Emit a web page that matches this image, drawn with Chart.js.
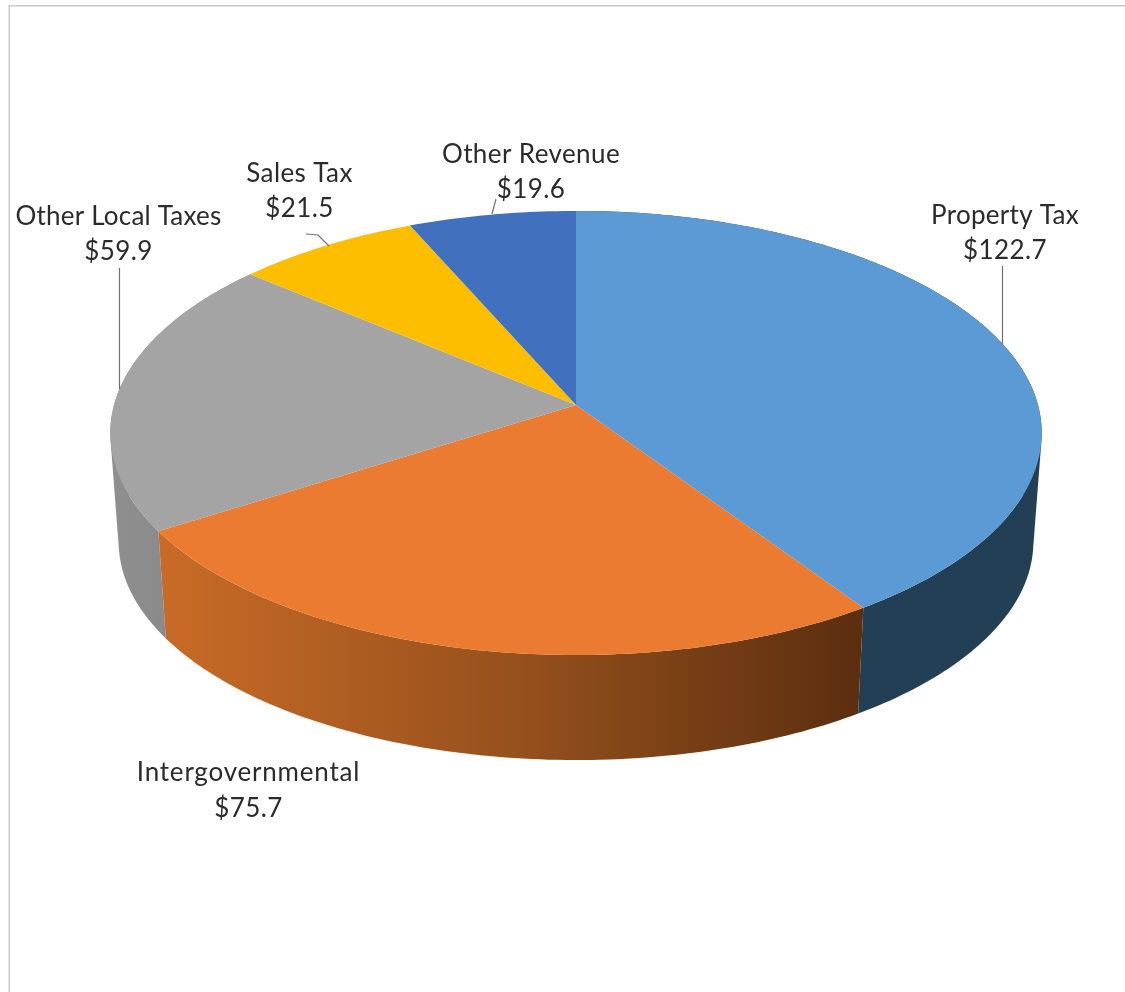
<!DOCTYPE html>
<html>
<head>
<meta charset="utf-8">
<title>Revenue by source</title>
<script src="https://cdn.jsdelivr.net/npm/chart.js@4/dist/chart.umd.min.js"></script>
<style>
  html, body { margin: 0; padding: 0; background: #fff; }
  canvas { display: block; }
</style>
</head>
<body>
<canvas id="pie" width="1125" height="992"></canvas>
<script>
const CATEGORIES = ['Property Tax', 'Intergovernmental', 'Other Local Taxes', 'Sales Tax', 'Other Revenue'];
const VALUES = [122.7, 75.7, 59.9, 21.5, 19.6];
const TOP_COLORS = ['#5b9ad5', '#eb7b30', '#a4a4a4', '#fdbe00', '#4070be'];

// Label placement: centre x, first and second baseline, name tracking
const LABEL_X = [1005, 248.5, 118.5, 299.5, 531];
const LABEL_Y1 = [224, 781, 225, 182, 163];
const LABEL_Y2 = [259, 817, 260, 217, 198];
const NAME_SPACING = [0.3, 0.8, 0.2, 0.4, 0.4];

// Leader polylines, one per label (Intergovernmental has none)
const LEADERS = [
  [[1002.5, 266], [1002.5, 344]],
  null,
  [[119.5, 268], [119.5, 389]],
  [[306, 234], [318, 235], [329, 246]],
  [[496, 199], [492, 214]],
];

// Tilted disc: circle points go through a small perspective divide
const TILT = 0.473;
const PERSPECTIVE = 0.126;
const RIM_DROP = 109.5;
const RIM_SCALE = 0.982;
const ANGLE_SKEW = 0.026; // radians, largest at the near side of the disc

function project(el, angle, drop, scale) {
  const half = (angle + Math.PI / 2) / 2;
  const a = angle - ANGLE_SKEW * Math.sin(half) * Math.sin(half);
  const u = Math.cos(a);
  const v = Math.sin(a);
  const w = 1 - PERSPECTIVE * v;
  return [
    el.x + el.outerRadius * scale * u / w,
    el.y + drop + el.outerRadius * scale * TILT * v / w,
  ];
}

function edgeSteps(from, to) {
  return Math.max(8, Math.ceil(Math.abs(to - from) * 60));
}

function traceEdge(ctx, el, from, to) {
  const steps = edgeSteps(from, to);
  for (let i = 0; i <= steps; i++) {
    const p = project(el, from + (to - from) * i / steps, 0, 1);
    ctx.lineTo(p[0], p[1]);
  }
}

// The wall is swept quad by quad so the silhouette follows the cylinder sides.
// All quads are wound the same way so one fill covers them with no seams.
function traceWall(ctx, el) {
  const steps = edgeSteps(el.startAngle, el.endAngle);
  for (let i = 0; i < steps; i++) {
    const a0 = el.startAngle + (el.endAngle - el.startAngle) * i / steps;
    const a1 = el.startAngle + (el.endAngle - el.startAngle) * (i + 1) / steps;
    const quad = [
      project(el, a0, 0, 1),
      project(el, a1, 0, 1),
      project(el, a1, RIM_DROP, RIM_SCALE),
      project(el, a0, RIM_DROP, RIM_SCALE),
    ];
    let area = 0;
    quad.forEach((p, j) => {
      const q = quad[(j + 1) % 4];
      area += p[0] * q[1] - q[0] * p[1];
    });
    if (area < 0) quad.reverse();
    quad.forEach((p, j) => j ? ctx.lineTo(p[0], p[1]) : ctx.moveTo(p[0], p[1]));
    ctx.closePath();
  }
}

function wallFill(ctx, index) {
  if (index === 0) return '#233f56';
  if (index === 1) {
    const g = ctx.createLinearGradient(160, 0, 862, 0);
    g.addColorStop(0, '#c96b27');
    g.addColorStop(0.5, '#97511d');
    g.addColorStop(1, '#5b2e0f');
    return g;
  }
  const g = ctx.createLinearGradient(110, 0, 165, 0);
  g.addColorStop(0, '#8f8f8f');
  g.addColorStop(1, '#8a8a8a');
  return g;
}

const disc3d = {
  id: 'disc3d',
  beforeDatasetDraw(chart, args) {
    const ctx = chart.ctx;
    const arcs = args.meta.data;

    // Side wall first, only the three slices that face forward show one
    [0, 2, 1].forEach(i => {
      ctx.beginPath();
      traceWall(ctx, arcs[i]);
      ctx.fillStyle = wallFill(ctx, i);
      ctx.fill();
    });

    // Top face
    arcs.forEach((el, i) => {
      ctx.beginPath();
      ctx.moveTo(el.x, el.y);
      traceEdge(ctx, el, el.startAngle, el.endAngle);
      ctx.closePath();
      ctx.fillStyle = TOP_COLORS[i];
      ctx.fill();
    });
    return false;
  },
  afterDraw(chart) {
    const ctx = chart.ctx;
    ctx.save();

    // Chart frame, open on the right and bottom
    ctx.strokeStyle = '#c9c9c9';
    ctx.lineWidth = 1.5;
    ctx.beginPath();
    ctx.moveTo(9.25, 992);
    ctx.lineTo(9.25, 5.75);
    ctx.lineTo(1125, 5.75);
    ctx.stroke();

    ctx.strokeStyle = '#707070';
    ctx.lineWidth = 1.2;
    LEADERS.forEach(line => {
      if (!line) return;
      ctx.beginPath();
      line.forEach((p, i) => i ? ctx.lineTo(p[0], p[1]) : ctx.moveTo(p[0], p[1]));
      ctx.stroke();
    });

    ctx.fillStyle = '#2b2b2b';
    ctx.font = '26px Lato';
    ctx.textAlign = 'center';
    ctx.textBaseline = 'alphabetic';
    CATEGORIES.forEach((name, i) => {
      ctx.letterSpacing = NAME_SPACING[i] + 'px';
      ctx.fillText(name, LABEL_X[i], LABEL_Y1[i]);
      ctx.letterSpacing = '0.45px';
      ctx.fillText('$' + VALUES[i].toFixed(1), LABEL_X[i], LABEL_Y2[i]);
    });
    ctx.restore();
  },
};

new Chart(document.getElementById('pie'), {
  type: 'pie',
  data: {
    labels: CATEGORIES,
    datasets: [{ data: VALUES, backgroundColor: TOP_COLORS, borderWidth: 0 }],
  },
  options: {
    responsive: false,
    animation: false,
    radius: 462,
    layout: { padding: { left: 27, right: 0, top: 0, bottom: 182 } },
    plugins: { legend: { display: false }, tooltip: { enabled: false } },
  },
  plugins: [disc3d],
});
</script>
</body>
</html>
